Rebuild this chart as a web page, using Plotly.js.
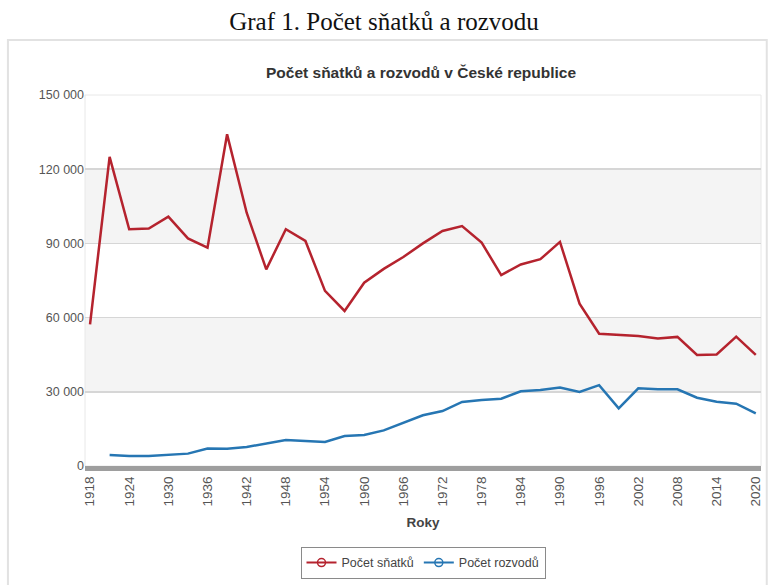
<!DOCTYPE html>
<html>
<head>
<meta charset="utf-8">
<script src="https://cdn.plot.ly/plotly-3.0.1.min.js"></script>
<style>html,body{margin:0;padding:0;background:#fff;}#chart{width:768px;height:585px;}</style>
</head>
<body>
<div id="chart"></div>
<script>
// Data
const years = [1918,1921,1924,1927,1930,1933,1936,1939,1942,1945,1948,1951,1954,1957,1960,1963,1966,1969,1972,1975,1978,1981,1984,1987,1990,1993,1996,1999,2002,2005,2008,2011,2014,2017,2020];
const snatky = [57300,125000,95700,96000,100800,92000,88300,134100,102400,79500,95700,91000,70800,62700,74100,79700,84500,90000,95000,97000,90300,77200,81500,83600,90600,65600,53500,53200,52600,51600,52200,44900,45100,52300,44900];
const rozvody = [null,4450,4050,4050,4450,5000,7100,7000,7700,9200,10500,10100,9700,12100,12500,14400,17500,20500,22200,25900,26700,27200,30200,30700,31700,29900,32700,23300,31400,31000,31000,27600,26000,25200,21300];
const seriesNames = ["Počet sňatků","Počet rozvodů"];
const xTicks = [1918,1924,1930,1936,1942,1948,1954,1960,1966,1972,1978,1984,1990,1996,2002,2008,2014,2020];
const yTicks = [0,30000,60000,90000,120000,150000];
const bands = [[30000,60000],[90000,120000]];

const RED = "#b5232e", BLUE = "#2676b3";
const FONT = "Liberation Sans, Arial, sans-serif";

const traces = [
  {x: years, y: snatky, mode: "lines", line: {color: RED, width: 2.5}, showlegend: false, name: seriesNames[0]},
  {x: years, y: rozvody, mode: "lines", line: {color: BLUE, width: 2.5}, showlegend: false, name: seriesNames[1], connectgaps: false},
  {x: [null], y: [null], mode: "lines+markers", name: seriesNames[0], line: {color: RED, width: 2}, marker: {symbol: "circle-open", size: 8, color: RED, line: {width: 1.5}}},
  {x: [null], y: [null], mode: "lines+markers", name: seriesNames[1], line: {color: BLUE, width: 2}, marker: {symbol: "circle-open", size: 8, color: BLUE, line: {width: 1.5}}}
];

const shapes = [];
// outer frame
shapes.push({type: "rect", xref: "paper", yref: "paper", x0: -0.114, x1: 1.0085, y0: -0.33, y1: 1.148, line: {color: "#e2e2e2", width: 2}, fillcolor: "rgba(0,0,0,0)", layer: "below"});
bands.forEach(b => shapes.push({type: "rect", xref: "paper", yref: "y", x0: 0, x1: 1, y0: b[0], y1: b[1], fillcolor: "#f4f4f4", line: {width: 0}, layer: "below"}));
// plot border
shapes.push({type: "rect", xref: "paper", yref: "paper", x0: 0, x1: 1, y0: 0, y1: 1, line: {color: "#e8e8e8", width: 1}, layer: "below"});

const layout = {
  width: 768, height: 585,
  paper_bgcolor: "#ffffff", plot_bgcolor: "rgba(0,0,0,0)",
  margin: {l: 85, r: 7, t: 95, b: 118},
  separators: ", ",
  font: {family: FONT, size: 12, color: "#555"},
  title: {text: "Graf 1. Počet sňatků a rozvodu", font: {family: "Liberation Serif, Times New Roman, serif", size: 25, color: "#111"}, x: 0.5, xref: "container", y: 0.964, yref: "container", yanchor: "middle"},
  annotations: [
    {text: "<b>Počet sňatků a rozvodů v České republice</b>", xref: "paper", yref: "paper", x: 0.497, y: 1.06, xanchor: "center", yanchor: "middle", showarrow: false, font: {family: FONT, size: 15.5, color: "#333"}}
  ],
  xaxis: {
    range: [1917.23, 2020.8], tickvals: xTicks, ticktext: xTicks.map(String), tickangle: -90,
    showgrid: false, zeroline: false, showline: true, linecolor: "#9e9e9e", linewidth: 5, ticks: "",
    tickfont: {family: FONT, size: 13.5, color: "#555"},
    title: {text: "<b>Roky</b>", font: {family: FONT, size: 13.5, color: "#444"}, standoff: 14}
  },
  yaxis: {
    range: [0, 150000], tickvals: yTicks, tickformat: ",d",
    showgrid: true, gridcolor: "#d6d6d6", gridwidth: 1.5, zeroline: false, showline: false, ticks: "",
    tickfont: {family: FONT, size: 12.5, color: "#555"}
  },
  legend: {orientation: "h", x: 0.5, xanchor: "center", xref: "paper", y: -0.215, yanchor: "top", yref: "paper",
    bordercolor: "#8a8a8a", borderwidth: 1, bgcolor: "#ffffff", font: {family: FONT, size: 12.5, color: "#444"}},
  shapes: shapes,
  showlegend: true
};

Plotly.newPlot("chart", traces, layout, {displayModeBar: false, staticPlot: true});
</script>
</body>
</html>
